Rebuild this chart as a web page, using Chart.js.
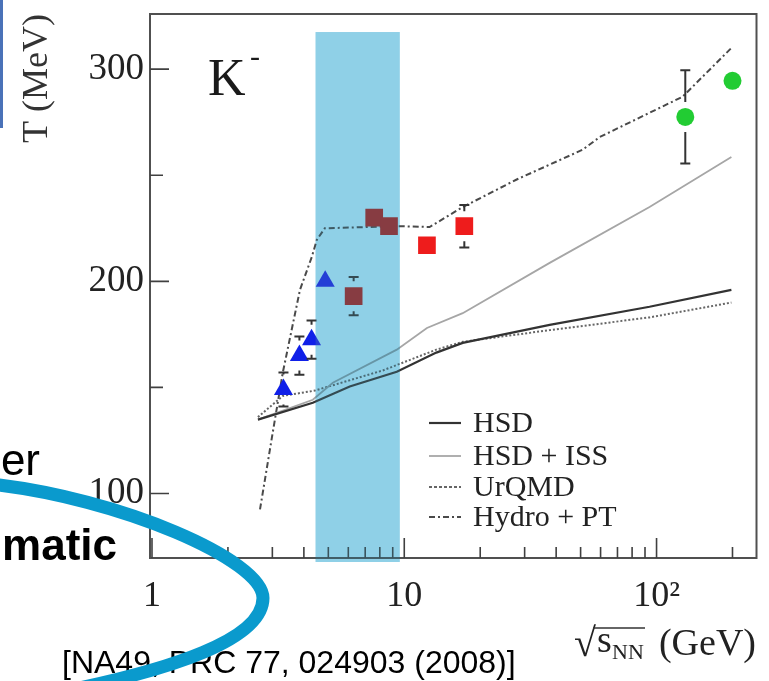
<!DOCTYPE html>
<html><head><meta charset="utf-8">
<script src="https://cdn.jsdelivr.net/npm/chart.js@4/dist/chart.umd.min.js"></script>
<style>html,body{margin:0;padding:0;background:#fff;overflow:hidden}#wrap{width:769px;height:681px;position:relative}</style>
</head><body><div id="wrap"><canvas id="c" width="769" height="681"></canvas></div>
<script>
// ---- data ----
const agsE = [3.32, 3.84, 4.29, 4.86];
const agsT = [149, 165, 172.5, 200];
const agsErr = [8, 9, 9, 0];
const na49E = [6.3, 7.6, 8.7, 12.3, 17.3];
const na49T = [193, 230, 226, 217, 226];
const na49Err = [9, 4, 4, 4, 10];
const rhicE = [130, 200];
const rhicT = [277.5, 294.5];
const rhicErr = [22, 3];
const hsdE = [2.63, 4.34, 6.08, 9.34, 13.4, 17.05, 37.7, 93.8, 198];
const hsdT = [134.8, 142.8, 150.4, 157.4, 166.4, 171, 179.5, 188, 196];
const issE = [2.63, 4.34, 5.21, 9.34, 12.3, 17.05, 37.7, 93.8, 198];
const issT = [134.8, 144.2, 152.2, 167.8, 178, 185, 208.7, 235, 258.6];
const urqmdE = [2.63, 3.30, 4.42, 8.22, 13.4, 17.05, 37.7, 93.8, 198];
const urqmdT = [136, 146, 148.5, 158, 167.8, 171.5, 177, 183, 190];
const hydroE = [2.68, 3.01, 3.30, 3.86, 4.30, 4.50, 4.84, 9.34, 12.6, 17.05, 27.9, 50.9, 59.5, 126.8, 198];
const hydroT = [92.5, 128.7, 157, 196, 211.5, 219.5, 225, 226, 225.6, 235, 248, 262, 268, 287, 310];
const seriesLabels = ['HSD', 'HSD + ISS', 'UrQMD', 'Hydro + PT'];
const xTicks = [1,2,3,4,5,6,7,8,9,10,20,30,40,50,60,70,80,90,100,200];
const xTickLabels = {1:'1', 10:'10', 100:'10\u00B2'};
const yTicks = [100,150,200,250,300];
const yTickLabels = {100:'100', 200:'200', 300:'300'};
const bandRange = [4.45, 9.6];
const bandTopT = 317.5;

const pts = (xs, ys) => xs.map((x, i) => ({x, y: ys[i]}));
const SERIF = '"Liberation Serif", "DejaVu Serif", serif';
const SANS = '"Liberation Sans", Arial, sans-serif';

const bgPlugin = {
  id: 'bg',
  beforeDraw(chart) {
    const c = chart.ctx; c.save(); c.fillStyle = '#fff';
    c.fillRect(0, 0, chart.width, chart.height); c.restore();
  }
};

const errPlugin = {
  id: 'err',
  afterDatasetsDraw(chart) {
    const c = chart.ctx, ys = chart.scales.y;
    chart.data.datasets.forEach((ds, i) => {
      if (!ds.errors) return;
      const meta = chart.getDatasetMeta(i);
      c.save(); c.strokeStyle = '#333'; c.lineWidth = 2;
      meta.data.forEach((pt, j) => {
        const e = ds.errors[j]; if (!e) return;
        const v = ds.data[j].y;
        const yt = ys.getPixelForValue(v + e), yb = ys.getPixelForValue(v - e);
        const gap = 15;
        if (pt.y - yt <= gap - 1) return;
        c.beginPath();
        c.moveTo(pt.x, yt); c.lineTo(pt.x, pt.y - gap);
        c.moveTo(pt.x, yb); c.lineTo(pt.x, pt.y + gap);
        c.moveTo(pt.x - 5, yt); c.lineTo(pt.x + 5, yt);
        c.moveTo(pt.x - 5, yb); c.lineTo(pt.x + 5, yb);
        c.stroke();
      });
      c.restore();
    });
  }
};

const decoPlugin = {
  id: 'deco',
  afterDraw(chart) {
    const c = chart.ctx, a = chart.chartArea, xs = chart.scales.x, ys = chart.scales.y;
    c.save();
    // frame
    c.strokeStyle = '#505050'; c.lineWidth = 2;
    c.strokeRect(a.left, a.top, a.right - a.left, a.bottom - a.top);
    // inward ticks
    c.lineWidth = 1.6; c.strokeStyle = '#404040';
    c.beginPath();
    xs.ticks.forEach(t => {
      const px = xs.getPixelForValue(t.value);
      const len = xTickLabels[t.value] ? 20 : 11;
      c.moveTo(px, a.bottom); c.lineTo(px, a.bottom - len);
    });
    ys.ticks.forEach(t => {
      const py = ys.getPixelForValue(t.value);
      const len = yTickLabels[t.value] ? 19 : 13;
      c.moveTo(a.left, py); c.lineTo(a.left + len, py);
    });
    c.stroke();
    // K- label
    c.fillStyle = '#1a1a1a'; c.textBaseline = 'alphabetic'; c.textAlign = 'left';
    c.font = '52px ' + SERIF; c.fillText('K', 208, 95);
    c.font = '30px ' + SERIF; c.fillText('-', 250, 66);
    // legend
    const legY = [423, 456, 487, 517];
    const models = chart.data.datasets.filter(d => d.isModel);
    models.forEach((d, k) => {
      c.save();
      c.strokeStyle = d.borderColor; c.lineWidth = d.borderWidth;
      c.setLineDash(d.legendDash || d.borderDash || []);
      c.beginPath(); c.moveTo(429, legY[k]); c.lineTo(461, legY[k]); c.stroke();
      c.restore();
      c.fillStyle = '#222'; c.font = '30px ' + SERIF; c.textBaseline = 'middle';
      c.fillText(d.label, 473, legY[k] + 1);
    });
    // x axis title: sqrt(s_NN) (GeV)
    c.textBaseline = 'alphabetic'; c.fillStyle = '#222';
    c.font = '40px ' + SERIF; c.fillText('\u221A', 574, 656);
    c.font = '38px ' + SERIF; c.fillText('s', 597, 652);
    c.font = '22px ' + SERIF; c.fillText('NN', 612, 659);
    c.strokeStyle = '#333'; c.lineWidth = 1.5;
    c.beginPath(); c.moveTo(593, 628); c.lineTo(645, 628); c.stroke();
    c.font = '38px ' + SERIF; c.textAlign = 'right'; c.fillText('(GeV)', 756, 655);
    // highlighted band (multiply overlay + light veil)
    const bx1 = xs.getPixelForValue(bandRange[0]), bx2 = xs.getPixelForValue(bandRange[1]);
    const by = ys.getPixelForValue(bandTopT);
    const bh = a.bottom + 4 - by;
    c.globalCompositeOperation = 'multiply';
    c.fillStyle = 'rgb(143,208,232)';
    c.fillRect(bx1, by, bx2 - bx1, bh);
    c.globalCompositeOperation = 'source-over';
    c.fillStyle = 'rgba(143,208,232,0.2)';
    c.fillRect(bx1, by, bx2 - bx1, bh);
    // slide decorations
    c.fillStyle = '#4a72b8'; c.fillRect(0, 0, 3, 128);
    c.fillStyle = '#000'; c.textAlign = 'right';
    c.font = '44px ' + SANS; c.fillText('er', 40, 475);
    c.font = 'bold 44px ' + SANS; c.fillText('matic', 117, 560);
    c.textAlign = 'left'; c.font = '32px ' + SANS;
    c.fillText('[NA49, PRC 77, 024903 (2008)]', 62, 673);
    c.strokeStyle = '#0a9acd'; c.lineWidth = 13; c.lineCap = 'butt';
    c.beginPath();
    c.moveTo(-10, 484);
    c.bezierCurveTo(120, 498, 263, 560, 263, 598);
    c.bezierCurveTo(263, 640, 170, 670, 60, 692);
    c.stroke();
    c.restore();
  }
};

new Chart(document.getElementById('c'), {
  type: 'scatter',
  data: {
    datasets: [
      { label: 'RHIC', data: pts(rhicE, rhicT), errors: rhicErr, pointStyle: 'circle', pointRadius: 9,
        backgroundColor: '#22cc33', borderColor: '#22cc33', borderWidth: 0 },
      { label: 'NA49', data: pts(na49E, na49T), errors: na49Err, pointStyle: 'rect', pointRadius: 12.5,
        backgroundColor: '#ee1c1c', borderColor: '#ee1c1c', borderWidth: 0 },
      { label: 'AGS', data: pts(agsE, agsT), errors: agsErr, pointStyle: 'triangle', pointRadius: 11,
        backgroundColor: '#1020e8', borderColor: '#1020e8', borderWidth: 0 },
      { label: seriesLabels[0], isModel: true, data: pts(hsdE, hsdT), showLine: true, pointRadius: 0,
        borderColor: '#333333', borderWidth: 2.2 },
      { label: seriesLabels[1], isModel: true, data: pts(issE, issT), showLine: true, pointRadius: 0,
        borderColor: '#a6a6a6', borderWidth: 1.8 },
      { label: seriesLabels[2], isModel: true, data: pts(urqmdE, urqmdT), showLine: true, pointRadius: 0,
        borderColor: '#666666', borderWidth: 2, borderDash: [2, 2], legendDash: [3, 2] },
      { label: seriesLabels[3], isModel: true, data: pts(hydroE, hydroT), showLine: true, pointRadius: 0,
        borderColor: '#4a4a4a', borderWidth: 2, borderDash: [6, 3, 2, 3] }
    ]
  },
  options: {
    responsive: false, animation: false,
    layout: { padding: { left: 0, top: 14, right: 12, bottom: 0 } },
    plugins: { legend: { display: false }, tooltip: { enabled: false } },
    scales: {
      x: {
        type: 'logarithmic', min: 0.982, max: 249,
        afterBuildTicks: s => { s.ticks = xTicks.map(v => ({value: v})); },
        afterFit: s => { s.height = 123; s.paddingLeft = 0; s.paddingRight = 0; },
        grid: { display: false, drawTicks: false },
        border: { display: false },
        ticks: { autoSkip: false, maxRotation: 0, padding: 17, color: '#222',
          font: { family: SERIF, size: 36 },
          callback: v => xTickLabels[v] || '' }
      },
      y: {
        type: 'linear', min: 69.6, max: 326,
        afterBuildTicks: s => { s.ticks = yTicks.map(v => ({value: v})); },
        afterFit: s => { s.width = 150; s.paddingTop = 0; s.paddingBottom = 0; },
        grid: { display: false, drawTicks: false },
        border: { display: false },
        title: { display: true, text: 'T (MeV)', align: 'end', color: '#333',
          font: { family: SERIF, size: 36 }, padding: { top: 16, bottom: 0 } },
        ticks: { padding: 6, color: '#222', font: { family: SERIF, size: 37 },
          callback: v => yTickLabels[v] || '' }
      }
    }
  },
  plugins: [bgPlugin, errPlugin, decoPlugin]
});
</script></body></html>
